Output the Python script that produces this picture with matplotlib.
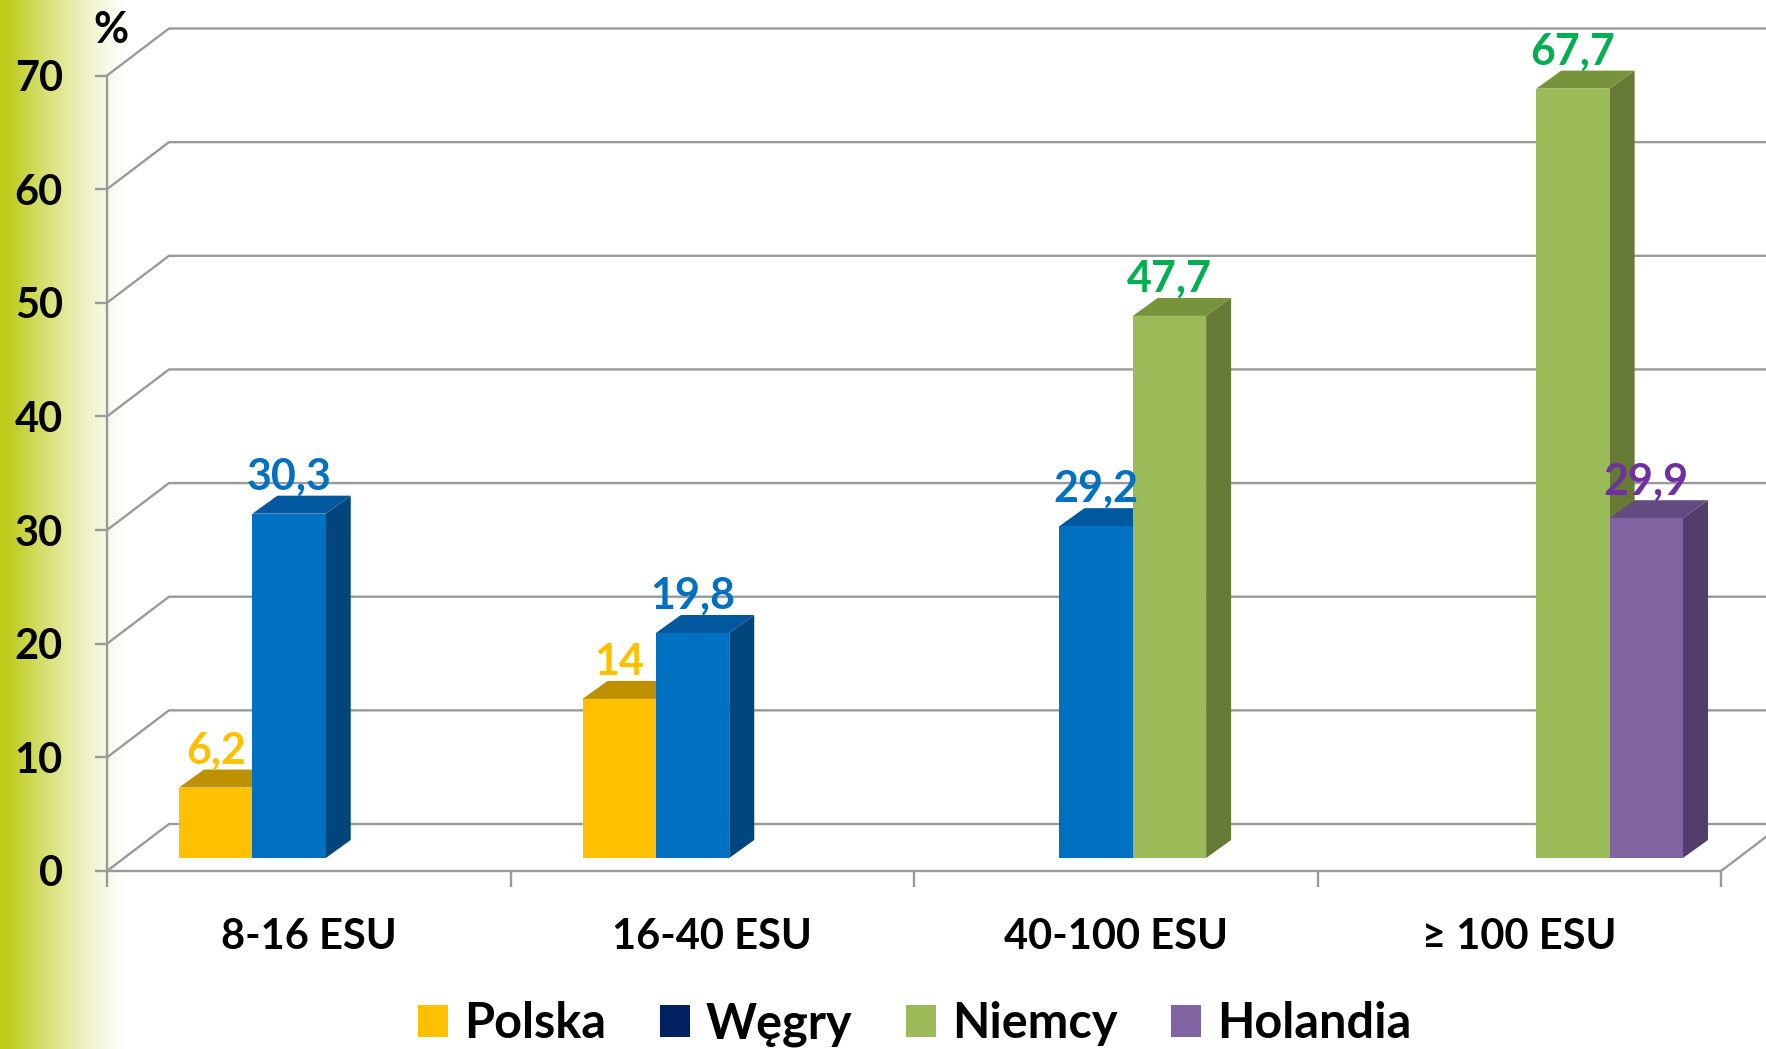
import numpy as np
import matplotlib
matplotlib.use("Agg")
import matplotlib.pyplot as plt
from matplotlib.patches import Polygon, Patch

# ---------------- data ----------------
categories = ["8-16 ESU", "16-40 ESU", "40-100 ESU", "\u2265 100 ESU"]
series_names = ["Polska", "W\u0119gry", "Niemcy", "Holandia"]
polska = [6.2, 14.0, np.nan, np.nan]
wegry = [30.3, 19.8, 29.2, np.nan]
niemcy = [np.nan, np.nan, 47.7, 67.7]
holandia = [np.nan, np.nan, np.nan, 29.9]
yticks = [0, 10, 20, 30, 40, 50, 60, 70]

values = [polska, wegry, niemcy, holandia]
front_colors = ["#FFC000", "#0070C0", "#9BBB59", "#8064A2"]
top_colors = ["#BF9000", "#00589E", "#77933C", "#624B80"]
side_colors = ["#A67C00", "#00457C", "#667A35", "#523E6B"]
label_colors = ["#FFC000", "#0070C0", "#00B050", "#7030A0"]
legend_colors = ["#FFC000", "#002060", "#9BBB59", "#8064A2"]

plt.rcParams['font.family'] = ['Lato', 'DejaVu Sans']
plt.rcParams['font.weight'] = 'bold'

W_PX, H_PX = 1766, 1049
fig = plt.figure(figsize=(W_PX / 100, H_PX / 100), dpi=100)

# left gradient strip
bg = fig.add_axes([0, 0, 1, 1], zorder=-10)
bg.set_axis_off()
xs = np.arange(W_PX)
alpha = np.clip((128 - xs) / (128 - 8), 0, 1) ** 1.3
base = np.array([0.745, 0.80, 0.11])
row = base[None, :] * alpha[:, None] + (1 - alpha[:, None]) * 1.0
img = np.repeat(row[None, :, :], 2, axis=0)
bg.imshow(img, aspect='auto', extent=[0, 1, 0, 1])
bg.set_xlim(0, 1)
bg.set_ylim(0, 1)

# main axes (front frame)
x0p, x1p, y0p, y70p = 107, 1721, 871, 75.5
ax = fig.add_axes([x0p / W_PX, 1 - y0p / H_PX, (x1p - x0p) / W_PX, (y0p - y70p) / H_PX])
ax.set_xlim(0, len(categories))
ax.set_ylim(0, 70)
ax.patch.set_alpha(0)

PX = (x1p - x0p) / len(categories)      # pixels per category
PY = (y0p - y70p) / 70.0                 # pixels per unit
BDX, BDY = 62 / PX, 47 / PY              # back wall depth
FDX, FDY = 17 / PX, 13 / PY              # bar front plane offset
DDX, DDY = 25 / PX, 18 / PY              # bar depth

grid_c = "#9A9A9A"
lw = 1.7
XR = (W_PX + 50 - x0p) / PX
for v in yticks:
    ax.plot([0, BDX, XR], [v, v + BDY, v + BDY], color=grid_c, lw=lw,
            clip_on=False, zorder=1, solid_capstyle='butt')
# floor right edge
ax.plot([len(categories), len(categories) + BDX], [0, BDY], color=grid_c, lw=lw,
        clip_on=False, zorder=1)

# spines / ticks
for s in ["top", "right"]:
    ax.spines[s].set_visible(False)
for s in ["left", "bottom"]:
    ax.spines[s].set_color(grid_c)
    ax.spines[s].set_linewidth(lw)
ax.set_yticks(yticks)
ax.set_yticklabels([str(v) for v in yticks])
ax.tick_params(axis='y', direction='out', length=12 * 0.72, width=lw, color=grid_c,
               pad=32 * 0.72, labelsize=30, labelcolor='black')
ax.set_xticks(range(len(categories) + 1))
ax.set_xticklabels([])
ax.set_xticks([i + 0.5 for i in range(len(categories))], minor=True)
ax.set_xticklabels(categories, minor=True)
ax.tick_params(axis='x', which='major', direction='out', length=16 * 0.72, width=lw, color=grid_c)
ax.tick_params(axis='x', which='minor', length=0, pad=47 * 0.72, labelsize=30)
for lab in ax.get_yticklabels() + ax.get_xticklabels(minor=True):
    lab.set_fontweight('bold')

# bars
nS = len(series_names)
W = 1.0 / (nS + 1.5)
z = 5
for g in range(len(categories)):
    for s in range(nS):
        v = values[s][g]
        if np.isnan(v):
            continue
        xl = g + 0.5 - 2 * W + s * W + FDX
        yb = FDY
        side = Polygon([(xl + W, yb), (xl + W + DDX, yb + DDY),
                        (xl + W + DDX, yb + v + DDY), (xl + W, yb + v)],
                       closed=True, facecolor=side_colors[s], edgecolor='none',
                       zorder=z, clip_on=False)
        ax.add_patch(side)
        top = Polygon([(xl, yb + v), (xl + W, yb + v),
                       (xl + W + DDX, yb + v + DDY), (xl + DDX, yb + v + DDY)],
                      closed=True, facecolor=top_colors[s], edgecolor='none',
                      zorder=z + 1, clip_on=False)
        ax.add_patch(top)
        ax.bar(xl, v, width=W, bottom=yb, align='edge', color=front_colors[s],
               edgecolor='none', zorder=z + 2, clip_on=False)
        z += 3

# value labels
for g in range(len(categories)):
    for s in range(nS):
        v = values[s][g]
        if np.isnan(v):
            continue
        xl = g + 0.5 - 2 * W + s * W + FDX
        txt = f"{v:g}".replace('.', ',')
        ax.annotate(txt, xy=(xl + W / 2, FDY + v), xytext=(0, 24 * 0.72),
                    textcoords='offset points', ha='center', va='baseline',
                    fontsize=31, fontweight='bold', color=label_colors[s],
                    zorder=100, annotation_clip=False)

fig.text(111 / W_PX, 1 - 30 / H_PX, "%", ha='center', va='center',
         fontsize=31, fontweight='bold')

handles = [Patch(facecolor=c, edgecolor='none') for c in legend_colors]
leg = fig.legend(handles, series_names, loc='center', bbox_to_anchor=(0.518, 0.024),
                 ncol=4, frameon=False, handlelength=0.62,
                 handleheight=0.62, handletextpad=0.33, columnspacing=1.1,
                 prop={'weight': 'bold', 'size': 35})

fig.savefig("out.png", dpi=100)
